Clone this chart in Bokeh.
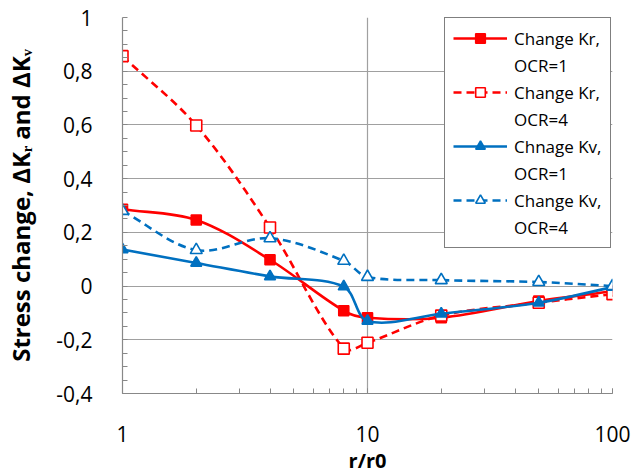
import numpy as np
from bokeh.plotting import figure
from bokeh.models import (FixedTicker, LogTicker, Legend, LegendItem, ColumnDataSource,
                          Range1d)
from bokeh.embed import file_html
from bokeh.resources import INLINE

# ---- data ----
r_ratio = [1, 2, 4, 8, 10, 20, 50, 100]
kr_ocr1 = [0.286, 0.246, 0.098, -0.092, -0.118, -0.118, -0.056, -0.019]
kr_ocr4 = [0.856, 0.598, 0.218, -0.233, -0.211, -0.110, -0.062, -0.030]
kv_ocr1 = [0.136, 0.086, 0.036, -0.002, -0.130, -0.103, -0.062, -0.004]
kv_ocr4 = [0.280, 0.134, 0.178, 0.094, 0.034, 0.022, 0.015, 0.000]

series_first = ["Change Kr,", "Change Kr,", "Chnage Kv,", "Change Kv,"]
series_second = ["OCR=1", "OCR=4", "OCR=1", "OCR=4"]

y_ticks = [-0.4, -0.2, 0, 0.2, 0.4, 0.6, 0.8, 1]
y_tick_labels = ["-0,4", "-0,2", "0", "0,2", "0,4", "0,6", "0,8", "1"]
x_ticks = [1, 10, 100]

FONT = "Open Sans"
RED = "#FF0000"
BLUE = "#0070C0"
GRID = "#A0A0A0"

W, H = 636, 476
BL, BR, BT, BB = 122, 24, 17, 83
p = figure(width=W, height=H, x_axis_type="log",
           x_range=Range1d(1, 100), y_range=Range1d(-0.4, 1.0),
           output_backend="svg", toolbar_location=None,
           min_border_left=BL, min_border_right=BR, min_border_top=BT, min_border_bottom=BB)
p.outline_line_color = None
p.background_fill_color = "white"

# axes
p.yaxis.ticker = FixedTicker(ticks=y_ticks,
                             minor_ticks=[round(v, 2) for v in np.arange(-0.4, 1.0001, 0.05)])
p.yaxis.major_label_overrides = {t: l for t, l in zip(y_ticks, y_tick_labels)}
p.xaxis.ticker = LogTicker(num_minor_ticks=10, desired_num_ticks=3)
p.xaxis.major_label_overrides = {t: str(t) for t in x_ticks}

for ax in (p.xaxis[0], p.yaxis[0]):
    ax.axis_line_color = "#888888"
    ax.axis_line_width = 1.2
    ax.major_tick_in = 0
    ax.major_tick_out = 0
    ax.minor_tick_in = 5
    ax.minor_tick_out = 0
    ax.minor_tick_line_color = "#888888"
    ax.major_label_text_font = FONT
    ax.major_label_text_font_size = "21px"
    ax.major_label_text_color = "black"
    ax.axis_label_text_font = FONT
    ax.axis_label_text_font_style = "bold"
    ax.axis_label_text_color = "black"

p.xaxis.major_label_standoff = 32
p.xaxis.axis_label_standoff = 2
p.xaxis.axis_label_text_font_size = "20px"
p.yaxis.major_label_standoff = 30
p.yaxis.axis_label_standoff = 16
p.yaxis.axis_label_text_font_size = "24px"
p.xaxis.axis_label = "r/r0"
p.yaxis.axis_label = "Stress change, \u0394K\u1d63 and \u0394K\u1d65"

p.xgrid.ticker = FixedTicker(ticks=x_ticks)
p.ygrid.ticker = FixedTicker(ticks=y_ticks)
p.xgrid.grid_line_color = GRID
p.ygrid.grid_line_color = GRID
p.xgrid.grid_line_width = 1.2
p.ygrid.grid_line_width = 1.2

# pixel scale of the frame (used only for the smoothing of the curves)
SX = (W - BL - BR) / 2.0          # px per decade
SY = (H - BT - BB) / 1.4          # px per unit


def smooth_segments(xs, ys):
    u = np.log10(np.array(xs, dtype=float)) * SX
    v = np.array(ys, dtype=float) * SY
    n = len(u)
    P = np.stack([u, v], axis=1)
    d = dict(x0=[], y0=[], x1=[], y1=[], cx0=[], cy0=[], cx1=[], cy1=[])

    def dist(a, b):
        return float(np.hypot(*(P[a] - P[b])))

    for i in range(n - 1):
        im1 = max(i - 1, 0)
        ip2 = min(i + 2, n - 1)
        dseg = dist(i, i + 1)
        c0 = P[i] + (P[i + 1] - P[im1]) * dseg / (dist(im1, i) + dseg) / 3.0
        c1 = P[i + 1] - (P[ip2] - P[i]) * dseg / (dseg + dist(i + 1, ip2)) / 3.0
        for key, pt in (("0", P[i]), ("1", P[i + 1])):
            d["x" + key].append(10 ** (pt[0] / SX)); d["y" + key].append(pt[1] / SY)
        d["cx0"].append(10 ** (c0[0] / SX)); d["cy0"].append(c0[1] / SY)
        d["cx1"].append(10 ** (c1[0] / SX)); d["cy1"].append(c1[1] / SY)
    return ColumnDataSource(d)


specs = [
    (kr_ocr1, RED, "solid", "square", RED, 10),
    (kr_ocr4, RED, "8 5", "square", "white", 11),
    (kv_ocr1, BLUE, "solid", "triangle", BLUE, 11),
    (kv_ocr4, BLUE, "8 5", "triangle", "white", 12),
]

items = []
for (vals, col, dash, marker, fill, size), l1, l2 in zip(specs, series_first, series_second):
    src = smooth_segments(r_ratio, vals)
    p.bezier(x0="x0", y0="y0", x1="x1", y1="y1", cx0="cx0", cy0="cy0", cx1="cx1", cy1="cy1",
             source=src, line_color=col, line_width=2.6, line_dash=dash)
    leg_line = p.line(x=[np.nan], y=[np.nan], line_color=col, line_width=2.6, line_dash=dash)
    sc = p.scatter(x=r_ratio, y=vals, marker=marker, size=size, line_color=col,
                   fill_color=fill, line_width=1.6)
    items.append(LegendItem(label=l1, renderers=[leg_line, sc]))
    items.append(LegendItem(label=l2, renderers=[]))

legend = Legend(items=items, location=(322, 145),
                label_text_font=FONT, label_text_font_size="17px",
                label_text_color="black",
                glyph_width=54, glyph_height=24, label_height=24, label_width=86,
                label_standoff=7, spacing=3,
                padding=8, margin=0,
                border_line_color="black", border_line_width=1.2,
                background_fill_color="white", background_fill_alpha=1.0)
p.add_layout(legend, "center")

open("out.html", "w").write(file_html(p, INLINE))
